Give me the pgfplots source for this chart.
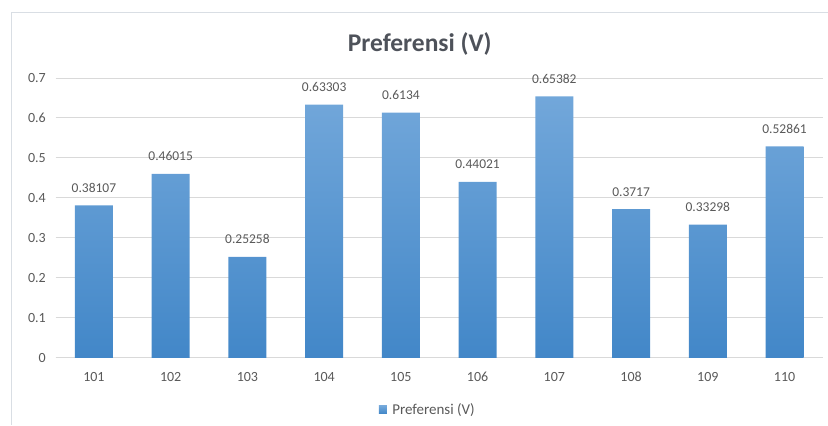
\documentclass[border=0pt]{standalone}
\usepackage{pgfplots}
\pgfplotsset{compat=1.18}
\usepackage{pgfplotstable}
\usepackage{fontspec}
\setmainfont{Carlito}

\definecolor{txtgray}{RGB}{89,89,89}
\definecolor{titlegray}{RGB}{78,82,90}
\definecolor{gridgray}{RGB}{217,217,217}
\definecolor{framegray}{RGB}{217,222,228}
\definecolor{bartop}{RGB}{114,167,218}
\definecolor{barmid}{RGB}{92,157,218}
\definecolor{barbot}{RGB}{66,135,200}

\pgfplotstableread{
alt   v
101   0.38107
102   0.46015
103   0.25258
104   0.63303
105   0.6134
106   0.44021
107   0.65382
108   0.3717
109   0.33298
110   0.52861
}\preferensi

\begin{document}
\begin{tikzpicture}[x=1bp,y=1bp]
  % canvas and chart frame
  \path (0,0) rectangle (828,425);
  \draw[framegray, line width=1bp] (11.5,0) -- (11.5,412.5) -- (828,412.5);
  % title
  \node[anchor=base, inner sep=0, text=titlegray, font=\fontsize{25.5bp}{30bp}\selectfont\bfseries]
    at (420,373.3) {Preferensi (V)};
  \begin{axis}[
    at={(55.6bp,67bp)}, anchor=south west,
    scale only axis, width=767.8bp, height=280bp,
    xmin=100.5, xmax=110.5, ymin=0, ymax=0.7,
    xtick=data, ytick={0,0.1,...,0.7},
    yticklabel style={/pgf/number format/fixed, /pgf/number format/precision=1},
    /pgf/number format/assume math mode=true,
    axis lines*=left,
    y axis line style={draw=none},
    x axis line style={draw=gridgray, line width=1bp, -},
    major tick length=0pt,
    ymajorgrids, grid style={gridgray, line width=0.9bp},
    tick label style={text=txtgray, font=\fontsize{14bp}{17bp}\selectfont},
    xticklabel style={anchor=base, inner sep=0pt, yshift=-24bp},
    yticklabel style={anchor=east, inner sep=0pt, xshift=-9.6bp},
    legend style={draw=none, fill=none, at={(0.4212,-0.1857)}, anchor=west,
      inner sep=0pt, font=\fontsize{15bp}{18bp}\selectfont, text=txtgray,
      nodes={inner sep=3bp},
      /tikz/every odd column/.append style={column sep=2.5bp}},
    legend image code/.code={\fill[barmid] (0bp,-3.8bp) rectangle (7.8bp,3.8bp);},
  ]
    \addplot[ybar, bar width=38bp, draw=none,
      top color=bartop, middle color=barmid, bottom color=barbot,
      point meta=explicit symbolic,
      nodes near coords={\pgfplotspointmeta},
      every node near coord/.style={anchor=base, inner sep=0pt, yshift=13bp,
        text=txtgray, font=\fontsize{13.5bp}{16bp}\selectfont}]
      table[x=alt, y=v, meta=v] {\preferensi};
    \addlegendentry{Preferensi (V)}
  \end{axis}
\end{tikzpicture}
\end{document}
